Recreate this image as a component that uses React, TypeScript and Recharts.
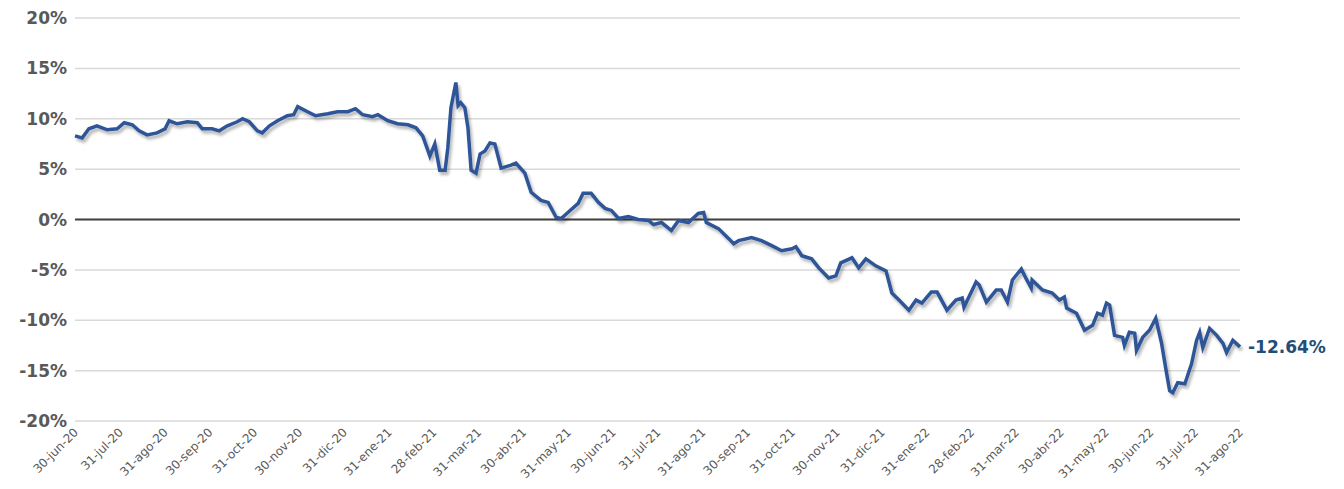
import React from "react";
import { LineChart, Line, XAxis, YAxis, CartesianGrid, ReferenceLine } from "recharts";

const tickLabels = ["30-jun-20","31-jul-20","31-ago-20","30-sep-20","31-oct-20","30-nov-20","31-dic-20","31-ene-21","28-feb-21","31-mar-21","30-abr-21","31-may-21","30-jun-21","31-jul-21","31-ago-21","30-sep-21","31-oct-21","30-nov-21","31-dic-21","31-ene-22","28-feb-22","31-mar-22","30-abr-22","31-may-22","30-jun-22","31-jul-22","31-ago-22"];

// months since 30-jun-20
const months = [0,.16,.31,.49,.72,.94,1.10,1.28,1.43,1.61,1.83,2.01,2.10,2.28,2.51,2.73,2.84,3.06,3.22,3.40,3.62,3.74,3.89,4.07,4.18,4.34,4.52,4.74,4.88,4.97,5.19,5.37,5.64,5.86,6.09,6.26,6.42,6.64,6.76,6.98,7.20,7.43,7.61,7.76,7.92,8.03,8.14,8.26,8.32,8.39,8.50,8.55,8.61,8.70,8.77,8.84,8.95,9.04,9.15,9.26,9.37,9.51,9.73,9.84,10.04,10.18,10.40,10.56,10.74,10.85,11.05,11.23,11.34,11.52,11.68,11.83,11.97,12.13,12.35,12.57,12.80,12.91,13.09,13.31,13.47,13.69,13.91,14.03,14.09,14.36,14.59,14.70,14.81,15.10,15.32,15.55,15.77,16.00,16.09,16.22,16.44,16.60,16.82,16.98,17.09,17.34,17.49,17.65,17.87,18.10,18.23,18.39,18.61,18.77,18.90,19.11,19.24,19.46,19.66,19.80,19.84,20.11,20.18,20.34,20.56,20.67,20.81,20.92,21.12,21.23,21.34,21.36,21.59,21.81,21.97,22.08,22.13,22.35,22.53,22.71,22.82,22.93,23.02,23.09,23.20,23.38,23.42,23.53,23.65,23.69,23.83,23.98,24.12,24.25,24.34,24.43,24.50,24.61,24.77,24.92,25.03,25.10,25.17,25.32,25.48,25.62,25.70,25.84,26];
const values = [8.3,8.1,9.0,9.3,8.9,9.0,9.6,9.4,8.8,8.4,8.6,9.0,9.8,9.5,9.7,9.6,9.0,9.0,8.8,9.3,9.7,10.0,9.7,8.8,8.6,9.3,9.8,10.3,10.4,11.2,10.7,10.3,10.5,10.7,10.7,11.0,10.4,10.2,10.4,9.8,9.5,9.4,9.1,8.3,6.3,7.5,4.9,4.9,7.1,11.1,13.6,11.3,11.6,11.1,9.1,4.9,4.6,6.5,6.8,7.6,7.5,5.1,5.4,5.6,4.6,2.7,1.9,1.7,0.2,0.1,0.9,1.6,2.6,2.6,1.7,1.1,0.9,0.1,0.3,0,-0.1,-0.5,-0.3,-1.1,-0.1,-0.3,0.6,0.7,-0.3,-0.9,-1.9,-2.4,-2.1,-1.8,-2.1,-2.6,-3.1,-2.9,-2.7,-3.6,-3.9,-4.8,-5.8,-5.6,-4.3,-3.8,-4.8,-3.9,-4.6,-5.1,-7.3,-8.0,-9.0,-8.0,-8.3,-7.2,-7.2,-9.0,-8.0,-7.8,-8.7,-6.2,-6.5,-8.2,-7.0,-7.0,-8.2,-6.0,-4.9,-5.9,-6.8,-6.0,-7.0,-7.3,-8.0,-7.7,-8.8,-9.3,-11.0,-10.5,-9.3,-9.5,-8.3,-8.5,-11.5,-11.7,-12.5,-11.2,-11.3,-13.0,-11.7,-11.0,-9.8,-12.3,-14.7,-17.0,-17.2,-16.2,-16.3,-14.3,-12.0,-11.2,-12.7,-10.8,-11.5,-12.3,-13.2,-12.0,-12.64];
const yTicks = [-20,-15,-10,-5,0,5,10,15,20];

const data = months.map((m, i) => ({ m, v: values[i] }));
const font = "Verdana, 'DejaVu Sans', sans-serif";

const EndLabel = (props: any) => {
  const { x, y, index } = props;
  if (index !== data.length - 1) return null;
  return (
    <text x={x + 8} y={y + 6} fill="#1F4E79" fontSize={17} fontWeight="bold" fontFamily={font}>
      {values[values.length - 1].toFixed(2)}%
    </text>
  );
};

const XTick = (props: any) => {
  const { x, y, payload } = props;
  return (
    <text x={x + 4} y={y + 4} transform={`rotate(-45 ${x + 4} ${y + 4})`} textAnchor="end" fill="#595959" fontSize={12} fontFamily={font}>
      {tickLabels[payload.value]}
    </text>
  );
};

export default function App() {
  return (
    <LineChart width={1328} height={473} data={data} margin={{ top: 10, right: 96, bottom: 0, left: 0 }}>
      <defs>
        <filter id="sh" x="-5%" y="-5%" width="110%" height="120%">
          <feDropShadow dx="2" dy="3" stdDeviation="1.5" floodColor="#000" floodOpacity="0.3" />
        </filter>
      </defs>
      <CartesianGrid vertical={false} stroke="#d9d9d9" strokeWidth={1.5} />
      <XAxis dataKey="m" type="number" domain={[0, 26]} ticks={tickLabels.map((_, i) => i)} interval={0} tick={<XTick />} axisLine={false} tickLine={false} height={60} />
      <YAxis domain={[-20, 20]} ticks={yTicks} tickFormatter={(v) => `${v}%`} axisLine={false} tickLine={false} width={67}
        tick={{ fill: "#595959", fontSize: 17, fontWeight: "bold", fontFamily: font }} />
      <ReferenceLine y={0} stroke="#404040" strokeWidth={2} />
      <Line type="linear" dataKey="v" stroke="#2F5597" strokeWidth={3.5} dot={false} isAnimationActive={false} filter="url(#sh)" label={<EndLabel />} />
    </LineChart>
  );
}
